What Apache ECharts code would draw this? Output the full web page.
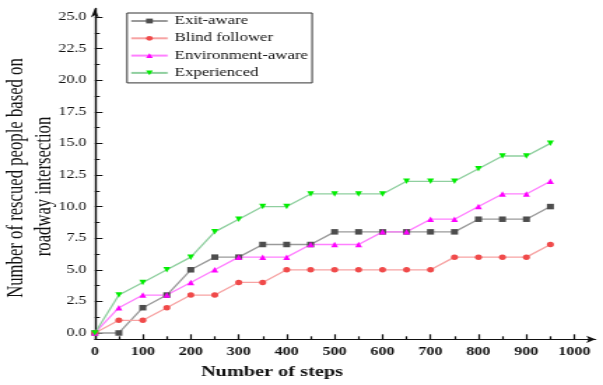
<!DOCTYPE html>
<html>
<head>
<meta charset="utf-8">
<script src="https://cdn.jsdelivr.net/npm/echarts@6/dist/echarts.min.js"></script>
<style>
html,body{margin:0;padding:0;background:#fff;overflow:hidden;}
#chart{width:431px;height:385px;transform:scaleX(1.3991);transform-origin:0 0;}
</style>
</head>
<body>
<div id="chart"></div>
<script>
// ---- data ----
const steps = [0,50,100,150,200,250,300,350,400,450,500,550,600,650,700,750,800,850,900,950];
const exitAware = [0,0,2,3,5,6,6,7,7,7,8,8,8,8,8,8,9,9,9,10];
const blindFollower = [0,1,1,2,3,3,4,4,5,5,5,5,5,5,5,6,6,6,6,7];
const environmentAware = [0,2,3,3,4,5,6,6,6,7,7,7,8,8,9,9,10,11,11,12];
const experienced = [0,3,4,5,6,8,9,10,10,11,11,11,11,12,12,12,13,14,14,15];
const seriesNames = ['Exit-aware','Blind follower','Environment-aware','Experienced'];
const xMajorTicks = [0,100,200,300,400,500,600,700,800,900,1000];
const xMinorTicks = [50,150,250,350,450,550,650,750,850,950];
const yMajorTicks = [0,2.5,5,7.5,10,12.5,15,17.5,20,22.5,25];
const yMinorTicks = [1.25,3.75,6.25,8.75,11.25,13.75,16.25,18.75,21.25,23.75];
const xTitle = 'Number of steps';
const yTitle1 = 'Number of rescued people based on';
const yTitle2 = 'roadway intersection';

const FONT = '"Liberation Serif", "Times New Roman", serif';
const pairs = arr => steps.map((s, i) => [s, arr[i]]);

const styles = [
  {line:'#9a9a9a', marker:'#4d4d4d', symbol:'rect', size:[5,5.5], rotate:0},
  {line:'#f7a3a3', marker:'#f04a4a', symbol:'circle', size:[5,5.5], rotate:0},
  {line:'#ff80ff', marker:'#ff00ff', symbol:'triangle', size:[5,5.5], rotate:0},
  {line:'#8fcf9f', marker:'#00ee00', symbol:'triangle', size:[5,5.5], rotate:180}
];
const values = [exitAware, blindFollower, environmentAware, experienced];

const X_MIN = 0, X_MAX = 1044, Y_MIN = -0.5, Y_MAX = 25.67;

const series = seriesNames.map((name, i) => ({
  name: name,
  type: 'line',
  xAxisIndex: 0,
  yAxisIndex: 0,
  data: pairs(values[i]),
  symbol: styles[i].symbol,
  symbolSize: styles[i].size,
  symbolRotate: styles[i].rotate,
  showAllSymbol: true,
  lineStyle: {color: styles[i].line, width: 1.3},
  itemStyle: {color: styles[i].marker},
  emphasis: {disabled: true},
  animation: false
}));

const chart = echarts.init(document.getElementById('chart'), null, {renderer: 'canvas'});
chart.setOption({
  backgroundColor: '#fff',
  animation: false,
  textStyle: {fontFamily: FONT},
  grid: {left: 67.8, right: 5.4, top: 8.5, bottom: 45.7, containLabel: false},
  legend: {
    data: seriesNames,
    orient: 'vertical',
    left: 90.8,
    top: 13,
    padding: [2, 3, 4, 2],
    itemGap: 5.3,
    itemWidth: 26,
    itemHeight: 6,
    borderColor: '#333',
    borderWidth: 1,
    borderRadius: 0,
    backgroundColor: '#fff',
    textStyle: {fontFamily: FONT, fontSize: 12, color: '#111', lineHeight: 12},
    selectedMode: false
  },
  xAxis: [{
    type: 'value', position: 'bottom', min: X_MIN, max: X_MAX,
    axisLine: {show: true, onZero: false, symbol: ['none','arrow'], symbolSize: [5.5, 6.5], lineStyle: {color: '#111', width: 1.2}},
    axisTick: {show: true, inside: true, length: 5, customValues: xMajorTicks, lineStyle: {color: '#111', width: 1.2}},
    axisLabel: {show: true, customValues: xMajorTicks, margin: 7, fontFamily: FONT, fontSize: 11.5, fontWeight: 'bold', color: '#111',
      formatter: v => String(v)},
    splitLine: {show: false}
  }, {
    type: 'value', position: 'bottom', min: X_MIN, max: X_MAX,
    axisLine: {show: false, onZero: false},
    axisTick: {show: true, inside: true, length: 3, customValues: xMinorTicks, lineStyle: {color: '#111', width: 1.2}},
    axisLabel: {show: false},
    splitLine: {show: false}
  }],
  yAxis: [{
    type: 'value', position: 'left', min: Y_MIN, max: Y_MAX,
    axisLine: {show: true, onZero: false, symbol: ['none','arrow'], symbolSize: [4.3, 9], lineStyle: {color: '#111', width: 1.4}},
    axisTick: {show: true, inside: true, length: 5.5, customValues: yMajorTicks, lineStyle: {color: '#111', width: 1}},
    axisLabel: {show: true, customValues: yMajorTicks, margin: 6, fontFamily: FONT, fontSize: 11.5, color: '#111',
      formatter: v => Number(v).toFixed(1)},
    splitLine: {show: false}
  }, {
    type: 'value', position: 'left', min: Y_MIN, max: Y_MAX,
    axisLine: {show: false, onZero: false},
    axisTick: {show: true, inside: true, length: 3.5, customValues: yMinorTicks, lineStyle: {color: '#111', width: 1}},
    axisLabel: {show: false},
    splitLine: {show: false}
  }],
  series: series,
  graphic: [
    {type: 'text', x: 194.4, y: 372, silent: true,
     style: {text: xTitle, fontFamily: FONT, fontSize: 14.5, fontWeight: 'bold', fill: '#111', textAlign: 'center', textVerticalAlign: 'middle'}},
    {type: 'text', x: 11.5, y: 178, rotation: Math.PI / 2, silent: true,
     style: {text: yTitle1, fontFamily: FONT, fontSize: 16.7, fill: '#111', textAlign: 'center', textVerticalAlign: 'middle'}},
    {type: 'text', x: 31.5, y: 186.5, rotation: Math.PI / 2, silent: true,
     style: {text: yTitle2, fontFamily: FONT, fontSize: 16.7, fill: '#111', textAlign: 'center', textVerticalAlign: 'middle'}}
  ]
});
</script>
</body>
</html>
